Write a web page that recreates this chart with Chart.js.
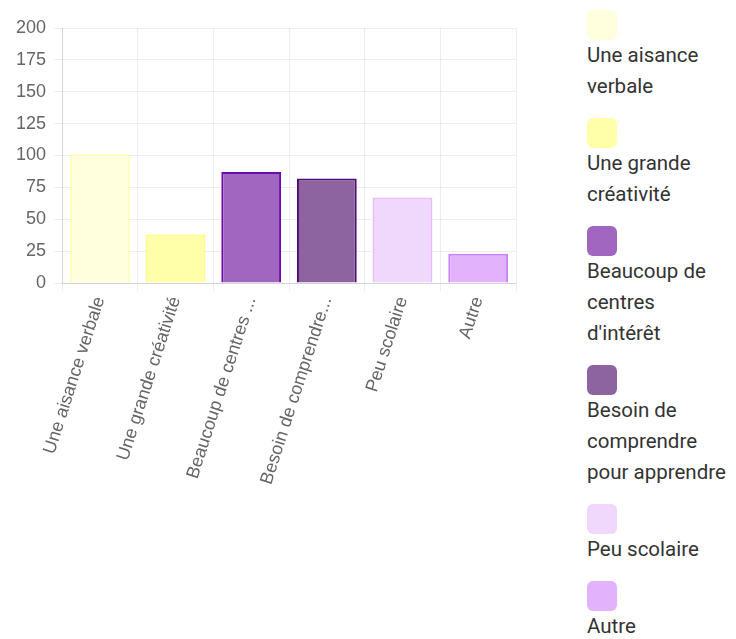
<!DOCTYPE html>
<html>
<head>
<meta charset="utf-8">
<script src="https://cdn.jsdelivr.net/npm/chart.js@4.4.0/dist/chart.umd.min.js"></script>
<style>
  body { margin: 0; background: #fff; }
  #wrap { position: relative; width: 736px; height: 639px; overflow: hidden; }
  #chartBox { position: absolute; left: 0; top: 0; width: 530px; height: 520px; }
  #legend { position: absolute; left: 587px; top: 10px; width: 149px;
    font-family: Roboto, sans-serif; font-size: 20.5px; line-height: 31px; color: #333;
    white-space: pre-line; }
  .item { margin-bottom: 16px; }
  .swatch { width: 30px; height: 30px; border-radius: 6px; }
</style>
</head>
<body>
<div id="wrap">
  <div id="chartBox"><canvas id="barChart" width="530" height="520"></canvas></div>
  <div id="legend"></div>
</div>
<script>
const categories = [
  'Une aisance verbale',
  'Une grande créativité',
  "Beaucoup de centres d'intérêt",
  'Besoin de comprendre pour apprendre',
  'Peu scolaire',
  'Autre'
];
// same labels, wrapped the way the legend shows them
const legendLabels = [
  'Une aisance\nverbale',
  'Une grande\ncréativité',
  "Beaucoup de\ncentres\nd'intérêt",
  'Besoin de\ncomprendre\npour apprendre',
  'Peu scolaire',
  'Autre'
];
const counts = [101, 38, 87, 82, 67, 23];
const yTickMax = 200;
const yTickStep = 25;

const fillColors = ['#ffffdd', '#ffffaa', '#a066c0', '#8e64a0', '#f0d8fc', '#e2b2fc'];
const borderColors = ['#ffffb8', '#ffff80', '#6a0aa8', '#4e0c72', '#e8bcfc', '#cc80fc'];

const ctx = document.getElementById('barChart').getContext('2d');

const chart = new Chart(ctx, {
  type: 'bar',
  data: {
    labels: categories,
    datasets: [{
      label: 'Réponses',
      data: counts,
      backgroundColor: fillColors,
      borderColor: borderColors,
      borderWidth: 2,
      barPercentage: 0.79,
      categoryPercentage: 1
    }]
  },
  options: {
    responsive: false,
    animation: false,
    layout: { padding: { top: 28, left: 8, right: 14, bottom: 0 } },
    plugins: {
      legend: { display: false },
      tooltip: { enabled: false }
    },
    scales: {
      x: {
        grid: { color: 'rgba(0,0,0,0.07)', tickLength: 8 },
        border: { color: 'rgba(0,0,0,0.1)' },
        afterFit: (scale) => { scale.height = 237; },
        ticks: {
          color: '#666',
          font: { size: 18, family: 'Arial, sans-serif' },
          minRotation: 72,
          maxRotation: 72,
          autoSkip: false,
          callback: function (value) {
            const label = this.getLabelForValue(value);
            return label.length > 21 ? label.substring(0, 20) + '...' : label;
          }
        }
      },
      y: {
        min: 0,
        max: yTickMax,
        grid: { color: 'rgba(0,0,0,0.07)', tickLength: 8 },
        border: { color: 'rgba(0,0,0,0.1)' },
        ticks: {
          stepSize: yTickStep,
          padding: 8,
          color: '#666',
          font: { size: 18, family: 'Arial, sans-serif' }
        }
      }
    }
  }
});

// html legend
const legend = document.getElementById('legend');
legendLabels.forEach((name, i) => {
  const item = document.createElement('div');
  item.className = 'item';
  const sw = document.createElement('div');
  sw.className = 'swatch';
  sw.style.background = fillColors[i];
  const txt = document.createElement('div');
  txt.textContent = name;
  item.appendChild(sw);
  item.appendChild(txt);
  legend.appendChild(item);
});
</script>
</body>
</html>
